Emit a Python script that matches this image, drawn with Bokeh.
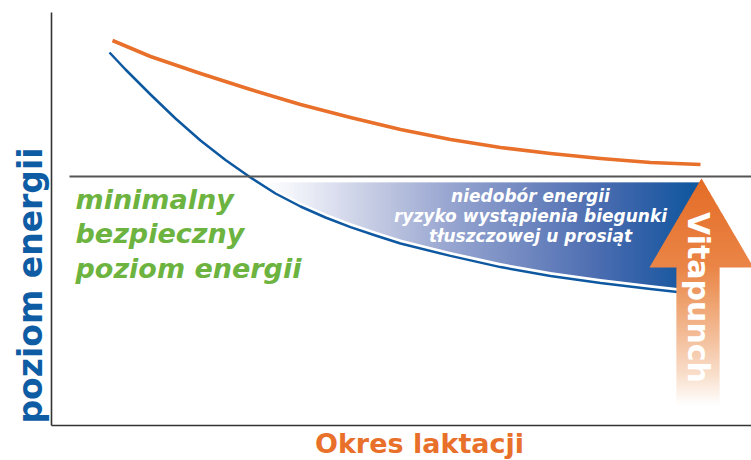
import numpy as np
from bokeh.plotting import figure
from bokeh.models import Range1d
from bokeh.core.properties import value
from bokeh.embed import file_html
from bokeh.resources import INLINE

# ---------------- data ----------------
# x: lactation time (weeks), y: energy level (relative units)
weeks_supply = [1.24, 2, 3, 4, 5, 6, 7, 8, 9, 10, 11, 12, 13]
energy_supply = [96.25, 92.25, 88.0, 84.0, 80.25, 77.0, 74.0, 71.5, 69.5, 68.0, 66.75, 65.75, 65.25]

weeks_level = [1.18, 1.5, 2, 2.5, 3, 3.5, 4, 4.5, 5, 5.5, 6, 6.5, 7, 8, 9, 10, 11, 12, 12.54]
energy_level = [93.25, 89.0, 82.75, 76.75, 71.25, 66.4, 62.0, 58.0, 54.75, 52.0, 49.6, 47.5,
                45.5, 42.4, 39.6, 37.4, 35.6, 34.1, 33.4]

safe_level = 62.25          # minimal safe energy level
deficit_top = 60.75         # top of the deficit band

axis_label_y = "poziom energii"
axis_label_x = "Okres laktacji"
safe_text = ["minimalny", "bezpieczny", "poziom energii"]
deficit_text = ["niedobór energii", "ryzyko wystąpienia biegunki", "tłuszczowej u prosiąt"]
arrow_text = "Vitapunch"

# ---------------- styles ----------------
ORANGE = "#e8702a"
BLUE = "#0d58a0"
GREEN = "#6db33f"
FONT = value("DejaVu Sans")


def hex2rgb(h):
    return tuple(int(h[i:i + 2], 16) for i in (1, 3, 5))


def gradient(pos, stops):
    ps = [s[0] for s in stops]
    cs = [hex2rgb(s[1]) for s in stops]
    out = []
    for p_ in np.atleast_1d(pos):
        r = int(round(np.interp(p_, ps, [c[0] for c in cs])))
        g = int(round(np.interp(p_, ps, [c[1] for c in cs])))
        b = int(round(np.interp(p_, ps, [c[2] for c in cs])))
        out.append("#%02x%02x%02x" % (r, g, b))
    return out


p = figure(width=751, height=460, x_range=Range1d(-1.0, 14.02), y_range=Range1d(-8.75, 106.25),
           x_axis_location=None, y_axis_location=None, toolbar_location=None,
           output_backend="svg", min_border=0, outline_line_color=None,
           background_fill_color="white", border_fill_color="white")
p.xgrid.visible = False
p.ygrid.visible = False

# ---- deficit band with horizontal gradient (white -> blue) ----
band_step = 0.04
band_left = np.arange(4.0, 12.96, band_step)
band_stops = [(4.3, "#ffffff"), (5.0, "#eef0f8"), (6.6, "#c0c7e1"), (8.0, "#97a5d0"),
              (9.6, "#6e86bf"), (11.0, "#4a6cb0"), (12.0, "#2c5fa6"), (12.8, "#12589f")]
p.quad(left=band_left, right=band_left + band_step * 1.6, bottom=32, top=deficit_top,
       fill_color=gradient(band_left + band_step / 2, band_stops), line_color=None)
# white gap under the band, following the energy-level curve
p.varea(x=weeks_level, y1=30, y2=np.array(energy_level) + 1.0, fill_color="white")

# ---- curves ----
p.line(weeks_supply, energy_supply, line_color=ORANGE, line_width=3.6, line_cap="butt",
       line_join="round")
p.line(weeks_level, energy_level, line_color=BLUE, line_width=2.5, line_cap="butt",
       line_join="round")

# ---- axes lines ----
p.segment(x0=[0.02, 0.02], y0=[103.25, 0], x1=[0.02, 14.5], y1=[0, 0],
          line_color="#333333", line_width=1.6)

# ---- Vitapunch arrow ----
tip_x, tip_v, base_v, head_hw = 13.02, 61.75, 39.5, 1.04
shaft_l, shaft_r, shaft_bottom = 12.52, 13.38, 5.0
arrow_stops = [(0.0, "#ffffff"), (5.0, "#ffffff"), (12.5, "#f9dfcc"), (21.25, "#f4c19e"),
               (31.25, "#eea06c"), (39.5, "#ea8547"), (61.75, "#e46c26")]
sv = np.arange(shaft_bottom, base_v, 0.25)
p.quad(left=shaft_l, right=shaft_r, bottom=sv, top=sv + 0.4,
       fill_color=gradient(sv + 0.125, arrow_stops), line_color=None)
n = 40
xs, ys, cols = [], [], []
for i in range(n):
    t0, t1 = i / n, (i + 1) / n
    v0 = tip_v - t0 * (tip_v - base_v)
    v1 = tip_v - min(t1 + 0.01, 1.0) * (tip_v - base_v)
    h0, h1 = t0 * head_hw, min(t1 + 0.01, 1.0) * head_hw
    xs.append([tip_x - h0, tip_x + h0, tip_x + h1, tip_x - h1])
    ys.append([v0, v0, v1, v1])
    cols.append(gradient((v0 + v1) / 2, arrow_stops)[0])
p.patches(xs, ys, fill_color=cols, line_color=None)

# ---- safe level line ----
p.segment(x0=[0.38], y0=[safe_level], x1=[14.5], y1=[safe_level], line_color="#555555", line_width=2)

# ---- texts ----
p.text(x=[12.95], y=[32], text=[arrow_text], angle=-np.pi / 2, text_align="center",
       text_baseline="middle", text_font=FONT, text_font_style="bold", text_font_size="30px",
       text_color="white")
p.text(x=[9.6, 9.6, 9.6], y=[57.5, 52.5, 47.5], text=deficit_text, text_align="center",
       text_baseline="middle", text_font=FONT, text_font_style="bold italic",
       text_font_size="17px", text_color="white")
p.text(x=[0.5, 0.5, 0.5], y=[56.6, 48.1, 39.3], text=safe_text, text_align="left",
       text_baseline="middle", text_font=FONT, text_font_style="bold italic",
       text_font_size="27px", text_color=GREEN)
p.text(x=[-0.4], y=[35], text=[axis_label_y], angle=np.pi / 2, text_align="center",
       text_baseline="middle", text_font=FONT, text_font_style="bold", text_font_size="33px",
       text_color="#0e5ca4")
p.text(x=[7.38], y=[-4.45], text=[axis_label_x], text_align="center", text_baseline="middle",
       text_font=FONT, text_font_style="bold", text_font_size="27px", text_color=ORANGE)

open("out.html", "w").write(file_html(p, INLINE))
